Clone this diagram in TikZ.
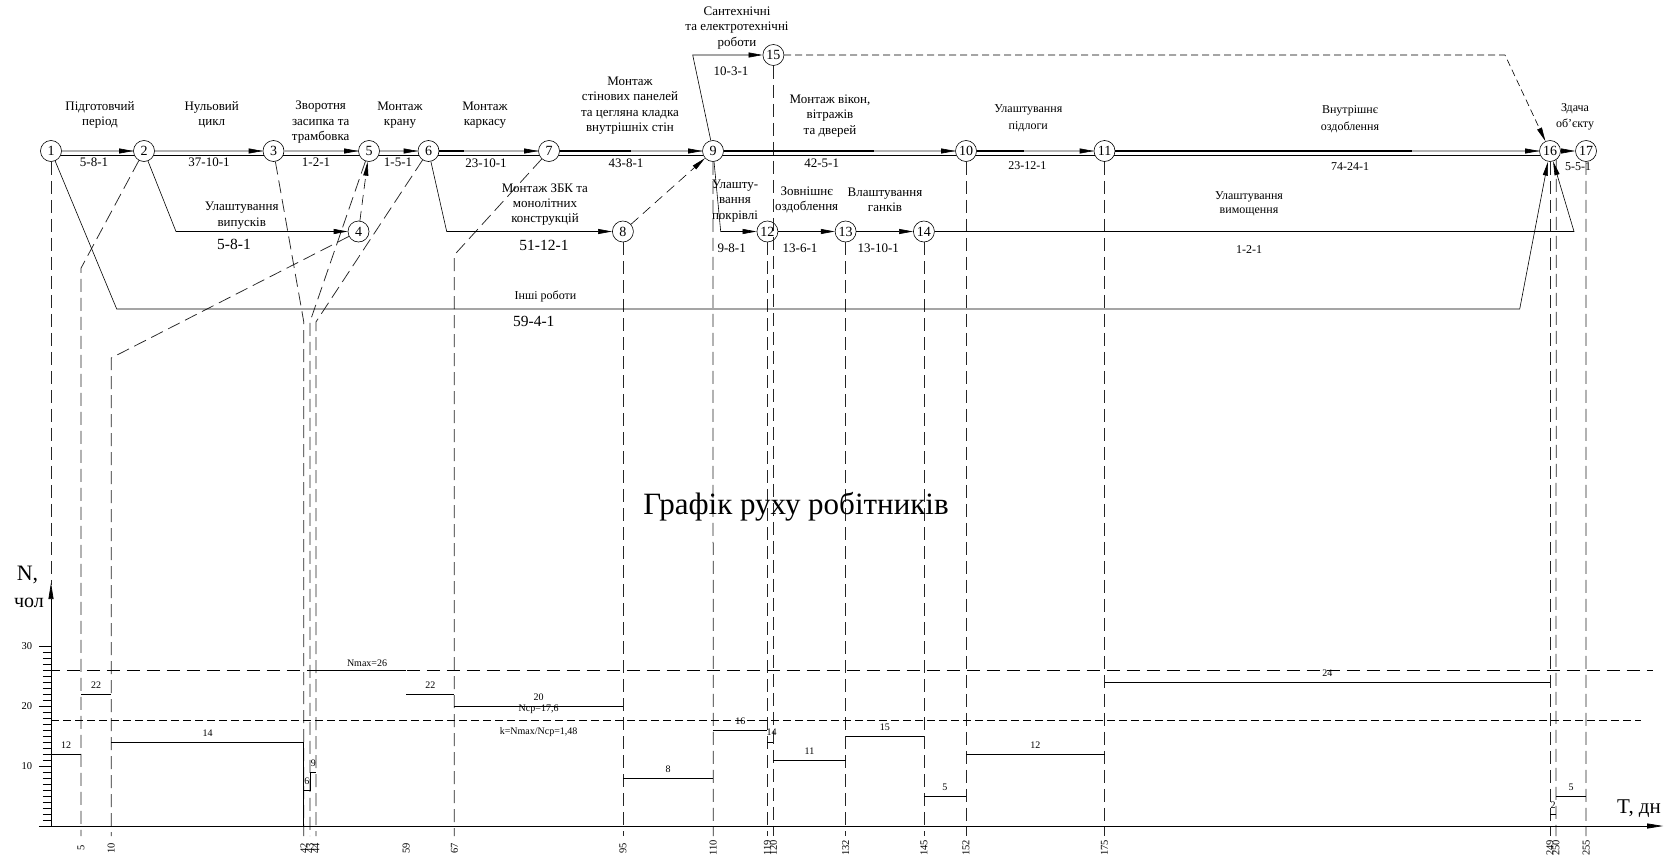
\documentclass[tikz,border=0pt]{standalone}
\usepackage{fontspec}
\setmainfont{Liberation Serif}
\usetikzlibrary{arrows.meta,calc}
\begin{document}
\begin{tikzpicture}[x=1pt,y=-1pt,
  ev/.style={circle,draw,line width=0.6pt,minimum size=21pt,inner sep=0pt,font=\fontsize{14}{14}\selectfont},
  lbl/.style={font=\fontsize{13}{15.3}\selectfont,align=center,inner sep=0pt},
  lbls/.style={font=\fontsize{12}{17}\selectfont,align=center,inner sep=0pt},
  lblb/.style={font=\fontsize{15.5}{18}\selectfont,inner sep=0pt},
  arr/.style={-{Triangle[length=14pt,width=5pt]}},
  work/.style={line width=0.6pt,arr},
  critU/.style={line width=1.6pt,gray!60},
  critB/.style={line width=1.6pt,black},
  critL/.style={line width=0.6pt},
  proj/.style={line width=0.75pt,black!85,dash pattern=on 13pt off 6pt},
  dep/.style={line width=0.6pt,dash pattern=on 10pt off 6pt,arr},
  hist/.style={line width=0.7pt},
  hl/.style={font=\fontsize{10}{10}\selectfont,inner sep=0pt,yshift=8.5pt},
  tl/.style={font=\fontsize{10.5}{10.5}\selectfont,rotate=90,inner sep=0pt},
]
\useasboundingbox (0,0) rectangle (1664,859);
\fill[white] (0,0) rectangle (1664,859);

% events
\node[ev] (n1) at (51,151) {1};
\node[ev] (n2) at (144,151) {2};
\node[ev] (n3) at (273.5,151) {3};
\node[ev] (n4) at (358.5,231.5) {4};
\node[ev] (n5) at (369,151) {5};
\node[ev] (n6) at (428.5,151) {6};
\node[ev] (n7) at (549,151) {7};
\node[ev] (n8) at (622.9,231.5) {8};
\node[ev] (n9) at (713,151) {9};
\node[ev] (n10) at (966,151) {10};
\node[ev] (n11) at (1104.5,151) {11};
\node[ev] (n12) at (767.4,231.5) {12};
\node[ev] (n13) at (845.6,231.5) {13};
\node[ev] (n14) at (923.9,231.5) {14};
\node[ev] (n15) at (773.4,55) {15};
\node[ev] (n16) at (1550,151) {16};
\node[ev] (n17) at (1586,151) {17};

% projections of events onto the time axis
\draw[proj] (n1) -- (51,585);
\draw[proj] (n2) -- (81.1,268) -- (81.1,836);
\draw[proj] (n4) -- (111.2,358) -- (111.2,836);
\draw[proj] (n3) -- (303.8,322) -- (303.8,836);
\draw[proj] (n5) -- (309.9,322) -- (309.9,836);
\draw[proj] (n6) -- (315.9,322) -- (315.9,836);
\draw[proj] (n7) -- (454.3,255) -- (454.3,836);
\draw[proj] (n8) -- (622.9,836);
\draw[proj] (n9) -- (713.2,836);
\draw[proj] (n12) -- (767.4,836);
\draw[proj] (n15) -- (773.4,836);
\draw[proj] (n13) -- (845.6,836);
\draw[proj] (n14) -- (923.9,836);
\draw[proj] (n10) -- (966,836);
\draw[proj] (n11) -- (1104.5,836);
\draw[proj] (n16) -- (1550,836);
\draw[proj] (n16.-55) -- (1556,836);
\draw[proj] (n17) -- (1586.1,836);

% critical path (double lines)
\foreach \a/\b/\f in {n1/n2/0,n2/n3/0,n3/n5/0,n5/n6/0,n6/n7/0.25,n7/n9/0.5,n9/n10/0.65,n10/n11/0.4,n11/n16/0.7}{
  \draw[critU] (\a.east) -- (\b.west);
  \draw[critB] (\a.east) -- ($(\a.east)!\f!(\b.west)$);
  \draw[critL] (\a.-25) -- (\b.205);
  \draw[work] ($(\b.west)+(-14,0)$) -- (\b.west);
}
\draw[work] (n16) -- (n17);

% other works
\draw[work] (n1) -- (116.7,309) -- (1519.7,309) -- (n16);
\draw[work] (n2) -- (176,231.5) -- (n4);
\draw[work] (n6) -- (446.7,231.5) -- (n8);
\draw[work] (n9) -- (720.7,231.5) -- (n12);
\draw[work] (n12) -- (n13);
\draw[work] (n13) -- (n14);
\draw[work] (n14) -- (1574,231.5) -- (n16);
\draw[work] (n9) -- (692.7,55) -- (n15);

% dummy dependencies
\draw[dep] (n4) -- (n5);
\draw[dep] (n8) -- (n9);
\draw[dep,dash pattern=on 7pt off 4pt] (n15) -- (1505,55) -- (n16);

% labels of works
\node[lbl] (t1) at (100,115) {Підготовчий\\період};
\node[lbl] (t2) at (211.7,115) {Нульовий\\цикл};
\node[lbl] (t3) at (320.7,122.3) {Зворотня\\засипка та\\трамбовка};
\node[lbl] (t4) at (400,115) {Монтаж\\крану};
\node[lbl] (t5) at (485,115) {Монтаж\\каркасу};
\node[lbl] (t6) at (630,105.5) {Монтаж\\стінових панелей\\та цегляна кладка\\внутрішніх стін};
\node[lbl] (t7) at (545,204.5) {Монтаж ЗБК та\\монолітних\\конструкцій};
\node[lbl] (t8) at (737,28) {Сантехнічні\\та електротехнічні\\роботи};
\node[lbl] (t9) at (830,116) {Монтаж вікон,\\вітражів\\та дверей};
\node[lbl] (t10) at (735,201) {Улашту-\\вання\\покрівлі};
\node[lbl] (t11) at (806.7,200) {Зовнішнє\\оздоблення};
\node[lbl] (t12) at (885,200) {Влаштування\\ганків};
\node[lbl] (t13) at (241.7,215.5) {Улаштування\\випусків};
\node[lbls] (t14) at (1028.3,117.8) {Улаштування\\підлоги};
\node[lbls] (t15) at (1350,118.8) {Внутрішнє\\оздоблення};
\node[lbls,font=\fontsize{12}{14}\selectfont] (t16) at (1249,204.3) {Улаштування\\вимощення};
\node[lbls,font=\fontsize{12}{16}\selectfont] (t17) at (1575,117.2) {Здача\\об'єкту};
\node[lbls] (t18) at (545.5,296) {Інші роботи};

\node[lbl] (d1) at (94,162) {5-8-1};
\node[lbl] (d2) at (209,162) {37-10-1};
\node[lbl] (d3) at (316,162) {1-2-1};
\node[lbl] (d4) at (398,162) {1-5-1};
\node[lbl] (d5) at (486,163) {23-10-1};
\node[lbl] (d6) at (626,163) {43-8-1};
\node[lbl] (d7) at (821.7,163.3) {42-5-1};
\node[lbl] (d8) at (731,71) {10-3-1};
\node[lbl] (d9) at (731.7,248.3) {9-8-1};
\node[lbl] (d10) at (800,248.3) {13-6-1};
\node[lbl] (d11) at (878.3,248.3) {13-10-1};
\node[lbls] (d12) at (1027.3,165.5) {23-12-1};
\node[lbls] (d13) at (1350,166.6) {74-24-1};
\node[lbls] (d14) at (1249,249.4) {1-2-1};
\node[lbls] (d15) at (1578,166.6) {5-5-1};
\node[lblb] (d16) at (234,244.3) {5-8-1};
\node[lblb] (d17) at (544,245) {51-12-1};
\node[lblb] (d18) at (533.8,321.6) {59-4-1};

% title
\node[font=\fontsize{31}{32}\selectfont] (title) at (796,507) {Графік руху робітників};

% workers chart
\begin{scope}[shift={(51pt,-826pt)},x=6.02pt,y=6pt]
  \draw[line width=0.7pt,-{Triangle[length=16pt,width=5pt]}] (-2,0) -- (267.8,0);
  \draw[line width=0.7pt,-{Triangle[length=16pt,width=5pt]}] (0,0) -- (0,40.5);
  \foreach \n in {1,...,29} \draw[line width=0.5pt] (-1.33,\n) -- (0,\n);
  \foreach \n in {10,20,30} {
    \draw[line width=0.5pt] (-2,\n) -- (0,\n);
    \node[font=\fontsize{10.5}{10.5}\selectfont,anchor=east,inner sep=0pt] at (-3.1,\n) {\n};
  }
  \draw[line width=0.6pt,dash pattern=on 13pt off 7pt] (-0.7,26) -- (266.1,26);
  \draw[line width=0.6pt,dash pattern=on 8pt off 4pt] (0,17.6) -- (264.1,17.6);
  \foreach \s/\e/\v in {0/5/12,5/10/22,10/42/14,42/43/6,43/44/9,44/59/26,59/67/22,67/95/20,95/110/8,110/119/16,119/120/14,120/132/11,132/145/15,145/152/5,152/175/12,175/249/24,249/250/2,250/255/5}
    \draw[hist] (\s,\v) -- (\e,\v);
  \draw[hist] (42,14) -- (42,0);
  \draw[hist] (42,6) -- (43,6) -- (43,9) -- (44,9);
  \node[hl] at (2.5,12) {12};
  \node[hl] at (7.5,22) {22};
  \node[hl] at (26,14) {14};
  \node[hl] at (42.5,6) {6};
  \node[hl] at (43.6,9) {9};
  \node[hl,yshift=-1.8pt] at (52.5,26) {Nmax=26};
  \node[hl] at (63,22) {22};
  \node[hl] at (81,20) {20};
  \node[hl,yshift=-8.5pt] at (81,19.5) {Ncp=17,6};
  \node[hl,yshift=-8.5pt] at (81,15.67) {k=Nmax/Ncp=1,48};
  \node[hl] at (102.5,8) {8};
  \node[hl] at (114.5,16) {16};
  \node[hl,yshift=1.5pt] at (119.7,14) {14};
  \node[hl] at (126,11) {11};
  \node[hl] at (138.5,15) {15};
  \node[hl] at (148.5,5) {5};
  \node[hl] at (163.5,12) {12};
  \node[hl] at (212,24) {24};
  \node[hl] at (249.5,2) {2};
  \node[hl] at (252.5,5) {5};
  \foreach \t in {5,10,42,43,44,59,67,95,110,119,120,132,145,152,175,249,250,255}
    \node[tl] at (\t,-3.67) {\t};
\end{scope}

\node[font=\fontsize{22}{22}\selectfont] (nlab) at (27.5,575) {N,};
\node[font=\fontsize{20}{20}\selectfont] (clab) at (29,603) {чол};
\node[font=\fontsize{21}{21}\selectfont,anchor=west,inner sep=0pt] (tlab) at (1617,809) {T, дн};
\end{tikzpicture}
\end{document}
